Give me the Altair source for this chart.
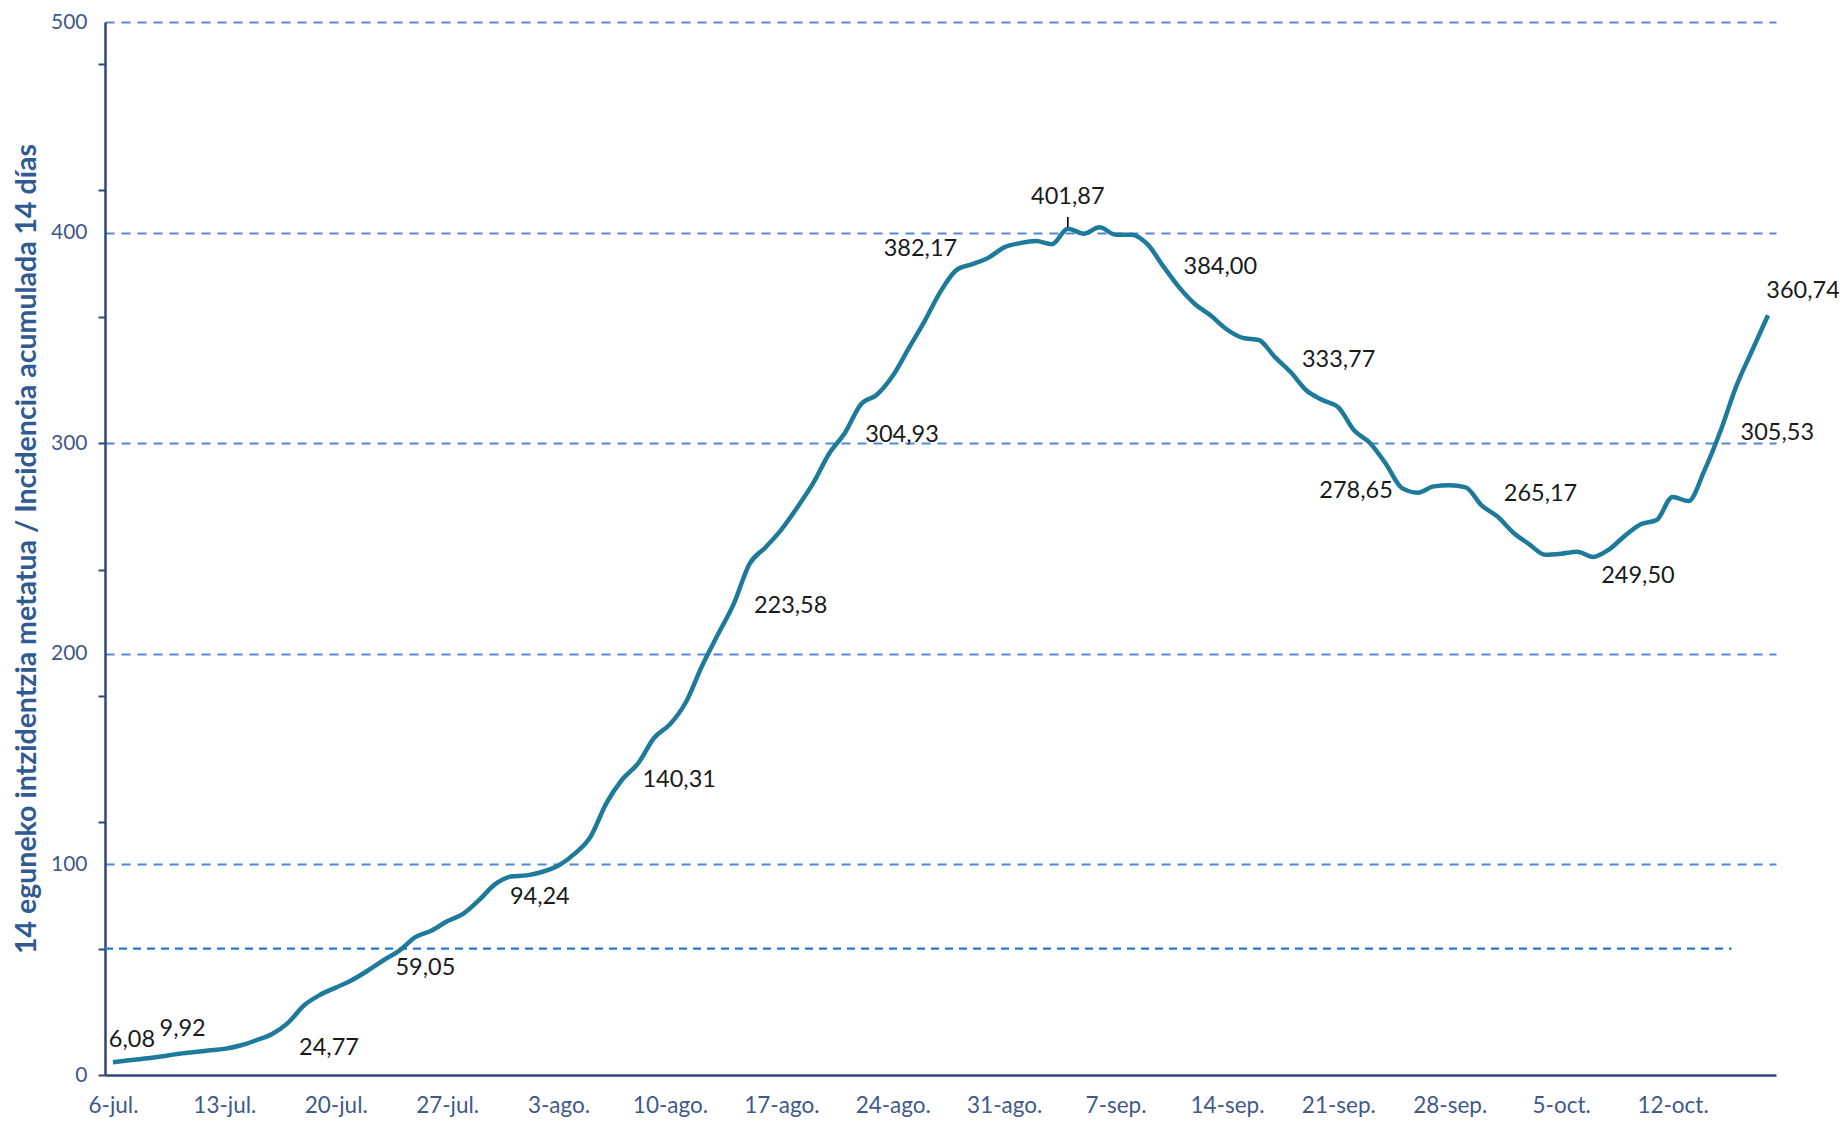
import altair as alt
import pandas as pd

# ---------------- data ----------------
start_date = "2020-07-06"
values = [
    6.08, 7.0, 7.8, 8.8, 9.92, 10.8, 11.6, 12.4, 14.0, 16.5,
    19.5, 24.77, 33.0, 38.0, 41.5, 45.0, 49.5, 54.5, 59.05, 65.5,
    68.5, 73.0, 76.5, 83.0, 90.5, 94.24, 94.8, 96.5, 99.5, 105.0,
    113.0, 129.0, 140.31, 148.0, 160.0, 166.5, 177.0, 194.0, 209.0, 223.58,
    242.7, 250.5, 259.0, 269.5, 281.0, 295.0, 304.93, 318.5, 323.0, 332.0,
    345.0, 358.0, 372.0, 382.17, 385.0, 388.0, 393.0, 395.0, 396.0, 394.5,
    401.87, 399.5, 402.5, 399.0, 399.0, 394.5, 384.00, 374.0, 366.0, 360.5,
    354.0, 350.0, 349.0, 341.0, 333.77, 325.0, 320.5, 317.0, 306.0, 300.0,
    290.0, 278.65, 276.5, 279.5, 280.0, 279.0, 270.5, 265.17, 257.5, 252.0,
    247.0, 247.5, 248.5, 246.0, 249.50, 256.0, 261.5, 263.5, 274.5, 272.5,
    287.0, 305.53, 327.0, 344.0, 360.74,
]
dates = pd.date_range(start_date, periods=len(values), freq="D").strftime("%Y-%m-%d").tolist()

tick_labels = ["6-jul.", "13-jul.", "20-jul.", "27-jul.", "3-ago.", "10-ago.", "17-ago.",
               "24-ago.", "31-ago.", "7-sep.", "14-sep.", "21-sep.", "28-sep.", "5-oct.", "12-oct."]
tick_dates = dates[::7][:len(tick_labels)]

# labelled points (day index into the series)
label_days = [0, 4, 11, 18, 25, 32, 39, 46, 53, 60, 66, 74, 81, 87, 94, 101, 104]
peak_day = 60

y_label_values = [0, 100, 200, 300, 400, 500]
y_tick_values = [0, 60, 120, 180, 240, 300, 360, 420, 480]
threshold_value = 60
threshold_start = "2020-07-05T12:00:00Z"
threshold_end = "2020-10-15T17:00:00Z"

y_title = "14 eguneko intzidentzia metatua / Incidencia acumulada 14 días"

# ---------------- styling (label offsets in pixels) ----------------
label_dx = [19, 6, 41, 26, 29, 57, 57, 57, -36, 0, 57, 48, -46, 43, 29, 57, 35]
label_dy = [-22, -25, 25, 17, 20, 0, 2, 2, -21, -32, 1, -12, 3, -23, 26, 1, -24]

LINE = "#1d7a9b"
GRID = "#4f88db"
THR = "#2277cf"
NAVY = "#2b4878"
TICKLAB = "#41598a"
TITLE = "#2f5b92"
FONT = "Lato"

# ---------------- build ----------------
df = pd.DataFrame({"date": dates, "value": values})
df["text"] = [f"{v:.2f}".replace(".", ",") for v in values]

DAY = 86400000
t0 = int(pd.Timestamp(dates[0], tz="UTC").value // 10**6)
t_end = int(pd.Timestamp(dates[-1], tz="UTC").value // 10**6)
tick_ms = [int(pd.Timestamp(d, tz="UTC").value // 10**6) for d in tick_dates]
label_list = "[" + ",".join("'" + s + "'" for s in tick_labels) + "]"
x_label_expr = f"{label_list}[round((datum.value - {t0}) / {7 * DAY})]"

x_scale = alt.Scale(type="utc", domain=[t0 - DAY // 2, t_end + DAY // 2])
y_scale = alt.Scale(domain=[0, 500], nice=False)

y_values = sorted(set(y_label_values) | set(y_tick_values))

x_axis = alt.Axis(
    values=tick_ms, labelExpr=x_label_expr, ticks=False, grid=False,
    domainColor=NAVY, domainWidth=2.5, labelFont=FONT, labelFontSize=22.5,
    labelColor=TICKLAB, labelPadding=19, title=None, labelOverlap=False,
    labelFlush=False,
)
y_axis = alt.Axis(
    values=y_values,
    labelExpr="datum.value % 100 === 0 ? datum.label : ''",
    tickOpacity={"condition": {"test": "datum.value % 60 === 0", "value": 1}, "value": 0},
    grid=True,
    gridOpacity={"condition": {"test": "datum.value % 100 === 0 && datum.value > 0", "value": 1}, "value": 0},
    gridDash=[9, 7], gridColor=GRID, gridWidth=2.2,
    tickSize=7, tickWidth=2, tickColor=NAVY,
    domainColor=NAVY, domainWidth=2.5,
    labelFont=FONT, labelFontSize=21, labelColor=TICKLAB, labelPadding=11,
    labelOverlap=False, labelFlush=False,
    title=y_title, titleFont=FONT, titleFontSize=28.5, titleFontWeight="bold",
    titleColor=TITLE, titleX=-79, titleY=526.5, titleAngle=270,
    titleAlign="center", titleBaseline="middle",
)

base = alt.Chart(df)

line = base.mark_line(color=LINE, strokeWidth=4.5, interpolate="monotone").encode(
    x=alt.X("date:T", scale=x_scale, axis=x_axis),
    y=alt.Y("value:Q", scale=y_scale, axis=y_axis),
)

thr_df = pd.DataFrame({"start": [threshold_start], "end": [threshold_end], "value": [threshold_value]})
threshold = alt.Chart(thr_df).mark_rule(color=THR, strokeWidth=2.2, strokeDash=[8, 6]).encode(
    x="start:T", x2="end:T", y="value:Q"
)

peak_df = df.iloc[[peak_day]]
leader = alt.Chart(peak_df).transform_calculate(
    y1="datum.value + 0.8", y2="datum.value + 5.5"
).mark_rule(color="black", strokeWidth=1.6).encode(
    x="date:T", y="y1:Q", y2="y2:Q"
)

text_layers = []
for i, d in enumerate(label_days):
    text_layers.append(
        alt.Chart(df.iloc[[d]]).mark_text(
            dx=label_dx[i], dy=label_dy[i], font=FONT, fontSize=23.5, color="#1a1a1a",
            align="center", baseline="middle",
        ).encode(x="date:T", y="value:Q", text="text:N")
    )

chart = alt.layer(threshold, line, leader, *text_layers).properties(
    width=1671, height=1053,
    autosize=alt.AutoSizeParams(type="none"),
    padding={"left": 97, "top": 14, "right": 63, "bottom": 50},
).configure_view(stroke=None)

chart.save("out.html", embed_options={"renderer": "svg", "actions": False})
